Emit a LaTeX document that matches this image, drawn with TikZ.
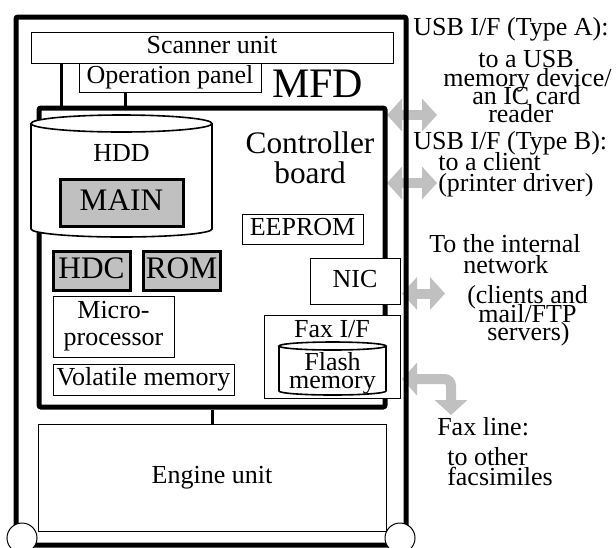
\documentclass[tikz,border=0pt]{standalone}
\usepackage{fontspec}
\setmainfont{Liberation Serif}
\usetikzlibrary{arrows.meta}
\definecolor{arrgray}{HTML}{C0C0C0}
\definecolor{chipgray}{HTML}{C0C0C0}
\tikzset{
  t26/.style={font=\fontsize{19.5pt}{20.25pt}\selectfont},
  t31/.style={font=\fontsize{23.5pt}{24pt}\selectfont},
  t42/.style={font=\fontsize{31.5pt}{32pt}\selectfont},
  onebox/.style={draw, fill=white, line width=0.75pt, inner sep=0pt, text height=13.65pt, text depth=4.3pt},
  multibox/.style={draw, fill=white, line width=0.75pt, inner sep=0pt, align=center},
  chipbox/.style={draw, fill=chipgray, line width=2.25pt, inner sep=0pt, text height=16.45pt, text depth=5.2pt},
  boardbox/.style={draw, line width=3.75pt, rounded corners=1.5pt, inner sep=0pt},
  conn/.style={line width=2.25pt},
  cyl/.style={line width=1.2pt},
  fatarrow/.style={draw=arrgray, line width=7.5pt,
     {Triangle[width=24pt,length=11.25pt]}-{Triangle[width=24pt,length=11.25pt]}},
  lbl/.style={t26, inner sep=0pt, anchor=base west},
  wheel/.style={draw, fill=white, line width=0.75pt}
}
\begin{document}
\begin{tikzpicture}[x=0.75pt,y=-0.75pt]
\useasboundingbox (0,0) rectangle (616,547);
% gray interface arrows (under the frame)
\coordinate (a1l) at (387,115); \coordinate (a1r) at (437,115);
\coordinate (a2l) at (387,183); \coordinate (a2r) at (437,183);
\coordinate (a3l) at (402,293.5); \coordinate (a3r) at (445,293.5);
\coordinate (a4l) at (402,379); \coordinate (a4d) at (451,415);
\draw[fatarrow] (a1l) -- (a1r);
\draw[fatarrow] (a2l) -- (a2r);
\draw[fatarrow] (a3l) -- (a3r);
\draw[fatarrow, rounded corners=5pt] (a4l) -| (a4d);
% outer MFD frame
\node[boardbox, minimum width=292.5pt, minimum height=396pt] (mfd) at (211,281) {};
\node[t42, inner sep=0pt, anchor=base west] (mfdlbl) at (272,97) {MFD};
% connectors
\coordinate (xs) at (61,0); \coordinate (xp) at (125,0);
\node[onebox, t26, minimum width=271.5pt, minimum height=23.25pt] (scanner) at (212,47.5) {Scanner unit};
\node[boardbox, minimum width=259.5pt, minimum height=224.25pt] (board) at (212,257.5) {};
\node[onebox, t26, minimum width=261pt, minimum height=80.25pt] (engine) at (212,477.5) {Engine unit};
\draw[conn] (scanner.south -| xs) -- (board.north -| xs);
\draw[conn] (board.south) -- (engine.north);
\node[onebox, t26, minimum width=136.5pt, minimum height=21.75pt] (panel) at (170,77.5) {Operation panel};
\draw[conn] (panel.south -| xp) -- (board.north -| xp);
% controller board label
\node[t31, inner sep=0pt, anchor=base] (ctrl1) at (310,153) {Controller};
\node[t31, inner sep=0pt, anchor=base] (ctrl2) at (310,183) {board};
% HDD cylinder
\fill[white] (31,123.5) rectangle (212,229);
\draw[cyl, fill=white] (31,123.5) -- (31,229) arc[start angle=180, end angle=0, x radius=90.5, y radius=8] -- (212,123.5);
\draw[cyl, fill=white] (121.5,123.5) ellipse[x radius=90.5, y radius=8.5];
\node[inner sep=0pt, minimum width=135.75pt, minimum height=85pt] (hdd) at (121.5,176) {};
\node[t26, inner sep=0pt, anchor=base] (hddlbl) at (121.5,161) {HDD};
\node[chipbox, t31, minimum width=92.25pt, minimum height=35.25pt] (main) at (121.5,202.5) {MAIN};
% chips and memories
\node[onebox, t26, minimum width=90.75pt, minimum height=22.5pt] (eeprom) at (302.5,229) {EEPROM};
\node[chipbox, t31, minimum width=57.75pt, minimum height=29.25pt] (hdc) at (91.5,270.5) {HDC};
\node[chipbox, t31, minimum width=57.75pt, minimum height=29.25pt] (rom) at (181.5,270.5) {ROM};
\node[onebox, t26, minimum width=67.5pt, minimum height=34.5pt] (nic) at (355,281) {NIC};
\node[multibox, t26, minimum width=90.75pt, minimum height=45.75pt] (micro) at (113.5,326.5) {Micro-\\processor};
\node[onebox, t26, minimum width=135.75pt, minimum height=23.25pt] (volatile) at (143.5,379.5) {Volatile memory};
% Fax I/F with flash memory
\node[draw, fill=white, line width=0.75pt, inner sep=0pt, minimum width=102pt, minimum height=62.25pt] (fax) at (332,356.5) {};
\node[t26, inner sep=0pt, anchor=base] (faxlbl) at (332,337) {Fax I/F};
\fill[white] (279,346) rectangle (386,391);
\draw[cyl, fill=white] (279,346) -- (279,391) arc[start angle=180, end angle=0, x radius=53.5, y radius=4] -- (386,346);
\draw[cyl, fill=white] (332.5,346) ellipse[x radius=53.5, y radius=4];
\node[t26, inner sep=0pt, anchor=base] (flash1) at (332.5,370) {Flash};
\node[t26, inner sep=0pt, anchor=base] (flash2) at (332.5,388) {memory};
% wheels
\draw[wheel] (22,538) circle[radius=15];
\draw[wheel] (400,538) circle[radius=15];
% right-hand texts
\node[lbl] (usba) at (413,35) {USB I/F (Type A):};
\node[lbl] (usba1) at (478,67) {to a USB};
\node[lbl] (usba2) at (443,86) {memory device/};
\node[lbl] (usba3) at (472,104) {an IC card};
\node[lbl] (usba4) at (488,122) {reader};
\node[lbl] (usbb) at (413,149) {USB I/F (Type B):};
\node[lbl] (usbb1) at (438,170) {to a client};
\node[lbl] (usbb2) at (438,191) {(printer driver)};
\node[lbl] (net) at (429,252) {To the internal};
\node[lbl] (net1) at (463,273) {network};
\node[lbl] (net2) at (467,303) {(clients and};
\node[lbl] (net3) at (478,322) {mail/FTP};
\node[lbl] (net4) at (487,340) {servers)};
\node[lbl] (faxline) at (437,435) {Fax line:};
\node[lbl] (faxline1) at (447,465) {to other};
\node[lbl] (faxline2) at (447,485) {facsimiles};
\end{tikzpicture}
\end{document}
